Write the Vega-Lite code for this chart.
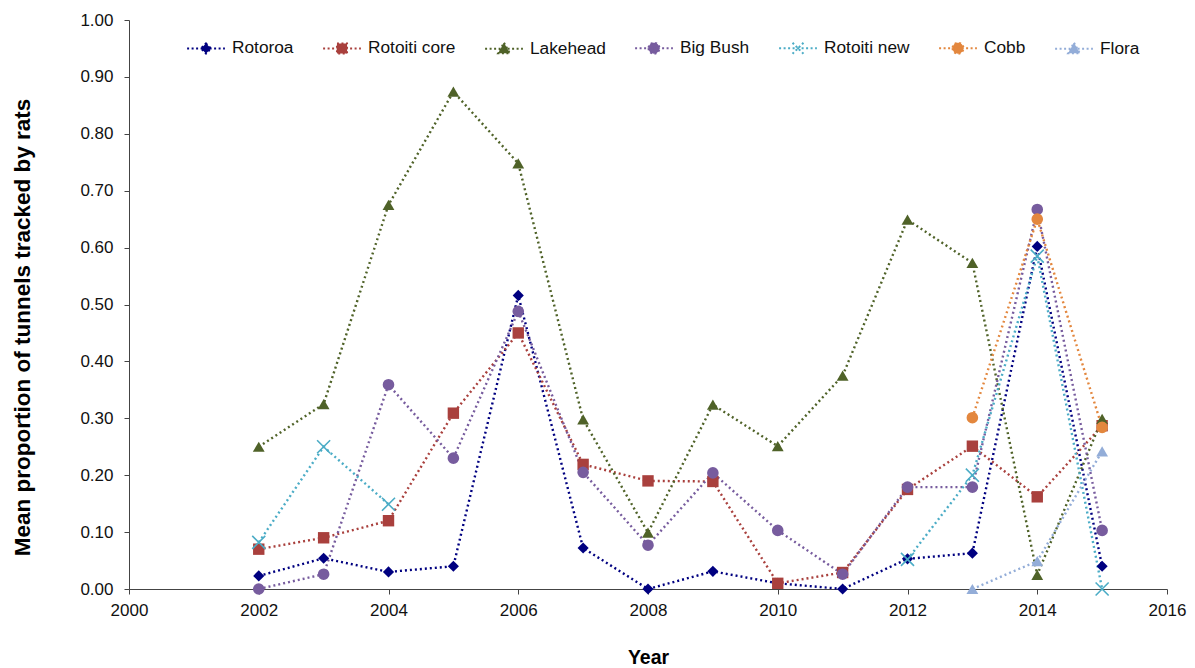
{
  "$schema": "https://vega.github.io/schema/vega-lite/v6.json",
  "width": 1038,
  "height": 569,
  "autosize": {"type": "none"},
  "padding": {"left": 129, "top": 20, "right": 28, "bottom": 79},
  "background": "white",
  "config": {
    "view": {"stroke": null},
    "font": "Liberation Sans",
    "axis": {
      "grid": false,
      "domainColor": "#444444",
      "tickColor": "#444444",
      "tickSize": 5,
      "labelFont": "Liberation Sans",
      "labelFontSize": 17,
      "labelColor": "#111111",
      "titleFont": "Liberation Sans",
      "titleFontWeight": "bold",
      "titleColor": "#000000"
    }
  },
  "data": {
    "values": [
      {"site": "Rotoroa", "run": "a", "year": 2002, "value": 0.023},
      {"site": "Rotoroa", "run": "a", "year": 2003, "value": 0.054},
      {"site": "Rotoroa", "run": "a", "year": 2004, "value": 0.030},
      {"site": "Rotoroa", "run": "a", "year": 2005, "value": 0.040},
      {"site": "Rotoroa", "run": "a", "year": 2006, "value": 0.516},
      {"site": "Rotoroa", "run": "a", "year": 2007, "value": 0.072},
      {"site": "Rotoroa", "run": "a", "year": 2008, "value": 0.0},
      {"site": "Rotoroa", "run": "a", "year": 2009, "value": 0.031},
      {"site": "Rotoroa", "run": "a", "year": 2010, "value": 0.010},
      {"site": "Rotoroa", "run": "a", "year": 2011, "value": 0.0},
      {"site": "Rotoroa", "run": "a", "year": 2012, "value": 0.053},
      {"site": "Rotoroa", "run": "a", "year": 2013, "value": 0.063},
      {"site": "Rotoroa", "run": "a", "year": 2014, "value": 0.602},
      {"site": "Rotoroa", "run": "a", "year": 2015, "value": 0.040},

      {"site": "Rotoiti core", "run": "a", "year": 2002, "value": 0.070},
      {"site": "Rotoiti core", "run": "a", "year": 2003, "value": 0.090},
      {"site": "Rotoiti core", "run": "a", "year": 2004, "value": 0.120},
      {"site": "Rotoiti core", "run": "a", "year": 2005, "value": 0.309},
      {"site": "Rotoiti core", "run": "a", "year": 2006, "value": 0.450},
      {"site": "Rotoiti core", "run": "a", "year": 2007, "value": 0.219},
      {"site": "Rotoiti core", "run": "a", "year": 2008, "value": 0.190},
      {"site": "Rotoiti core", "run": "a", "year": 2009, "value": 0.189},
      {"site": "Rotoiti core", "run": "a", "year": 2010, "value": 0.010},
      {"site": "Rotoiti core", "run": "a", "year": 2011, "value": 0.029},
      {"site": "Rotoiti core", "run": "a", "year": 2012, "value": 0.175},
      {"site": "Rotoiti core", "run": "a", "year": 2013, "value": 0.251},
      {"site": "Rotoiti core", "run": "a", "year": 2014, "value": 0.162},
      {"site": "Rotoiti core", "run": "a", "year": 2015, "value": 0.287},

      {"site": "Lakehead", "run": "a", "year": 2002, "value": 0.250},
      {"site": "Lakehead", "run": "a", "year": 2003, "value": 0.325},
      {"site": "Lakehead", "run": "a", "year": 2004, "value": 0.675},
      {"site": "Lakehead", "run": "a", "year": 2005, "value": 0.874},
      {"site": "Lakehead", "run": "a", "year": 2006, "value": 0.748},
      {"site": "Lakehead", "run": "a", "year": 2007, "value": 0.298},
      {"site": "Lakehead", "run": "a", "year": 2008, "value": 0.099},
      {"site": "Lakehead", "run": "a", "year": 2009, "value": 0.324},
      {"site": "Lakehead", "run": "a", "year": 2010, "value": 0.251},
      {"site": "Lakehead", "run": "a", "year": 2011, "value": 0.375},
      {"site": "Lakehead", "run": "a", "year": 2012, "value": 0.649},
      {"site": "Lakehead", "run": "a", "year": 2013, "value": 0.573},
      {"site": "Lakehead", "run": "a", "year": 2014, "value": 0.025},
      {"site": "Lakehead", "run": "a", "year": 2015, "value": 0.299},

      {"site": "Big Bush", "run": "a", "year": 2002, "value": 0.0},
      {"site": "Big Bush", "run": "a", "year": 2003, "value": 0.026},
      {"site": "Big Bush", "run": "a", "year": 2004, "value": 0.359},
      {"site": "Big Bush", "run": "a", "year": 2005, "value": 0.230},
      {"site": "Big Bush", "run": "a", "year": 2006, "value": 0.488},
      {"site": "Big Bush", "run": "a", "year": 2007, "value": 0.205},
      {"site": "Big Bush", "run": "a", "year": 2008, "value": 0.077},
      {"site": "Big Bush", "run": "a", "year": 2009, "value": 0.204},
      {"site": "Big Bush", "run": "a", "year": 2010, "value": 0.103},
      {"site": "Big Bush", "run": "a", "year": 2011, "value": 0.026},
      {"site": "Big Bush", "run": "a", "year": 2012, "value": 0.179},
      {"site": "Big Bush", "run": "a", "year": 2013, "value": 0.179},
      {"site": "Big Bush", "run": "a", "year": 2014, "value": 0.667},
      {"site": "Big Bush", "run": "a", "year": 2015, "value": 0.103},

      {"site": "Rotoiti new", "run": "a", "year": 2002, "value": 0.082},
      {"site": "Rotoiti new", "run": "a", "year": 2003, "value": 0.250},
      {"site": "Rotoiti new", "run": "a", "year": 2004, "value": 0.149},
      {"site": "Rotoiti new", "run": "b", "year": 2012, "value": 0.052},
      {"site": "Rotoiti new", "run": "b", "year": 2013, "value": 0.200},
      {"site": "Rotoiti new", "run": "b", "year": 2014, "value": 0.585},
      {"site": "Rotoiti new", "run": "b", "year": 2015, "value": 0.0},

      {"site": "Cobb", "run": "a", "year": 2013, "value": 0.301},
      {"site": "Cobb", "run": "a", "year": 2014, "value": 0.650},
      {"site": "Cobb", "run": "a", "year": 2015, "value": 0.284},

      {"site": "Flora", "run": "a", "year": 2013, "value": 0.0},
      {"site": "Flora", "run": "a", "year": 2014, "value": 0.049},
      {"site": "Flora", "run": "a", "year": 2015, "value": 0.242}
    ]
  },
  "encoding": {
    "x": {
      "field": "year",
      "type": "quantitative",
      "title": "Year",
      "scale": {"domain": [2000, 2016], "nice": false, "zero": false},
      "axis": {
        "values": [2000, 2002, 2004, 2006, 2008, 2010, 2012, 2014, 2016],
        "format": "d",
        "labelPadding": 8,
        "titlePadding": 30,
        "titleFontSize": 19.5,
        "labelFlush": false
      }
    },
    "y": {
      "field": "value",
      "type": "quantitative",
      "title": "Mean proportion of tunnels tracked by rats",
      "scale": {"domain": [0, 1], "nice": false},
      "axis": {
        "values": [0, 0.1, 0.2, 0.3, 0.4, 0.5, 0.6, 0.7, 0.8, 0.9, 1.0],
        "format": ".2f",
        "labelPadding": 11,
        "titlePadding": 45,
        "titleFontSize": 22.5,
        "titleY": 307,
        "labelFlush": false
      }
    },
    "color": {
      "field": "site",
      "type": "nominal",
      "scale": {
        "domain": ["Rotoroa", "Rotoiti core", "Lakehead", "Big Bush", "Rotoiti new", "Cobb", "Flora"],
        "range": ["#000080", "#A9403D", "#4F6228", "#775C9E", "#4BACC6", "#E3873E", "#93ADD8"]
      },
      "legend": {
        "title": null,
        "orient": "none",
        "direction": "horizontal",
        "legendX": 55,
        "legendY": 6,
        "symbolSize": 1764,
        "labelFont": "Liberation Sans",
        "labelFontSize": 17.3,
        "labelColor": "#111111",
        "labelOffset": 4,
        "columnPadding": 25,
        "encode": {
          "symbols": {
            "update": {
              "shape": {
                "signal": "datum.value === 'Rotoroa' ? 'M-0.9,0L0.9,0M0,-0.24L0.24,0L0,0.24L-0.24,0Z' : datum.value === 'Rotoiti core' ? 'M-0.9,0L0.9,0M-0.24,-0.24L0.24,-0.24L0.24,0.24L-0.24,0.24Z' : (datum.value === 'Lakehead' || datum.value === 'Flora') ? 'M-0.9,0L0.9,0M0,-0.28L0.28,0.22L-0.28,0.22Z' : datum.value === 'Rotoiti new' ? 'M-0.9,0L0.9,0M-0.26,-0.26L0.26,0.26M0.26,-0.26L-0.26,0.26' : 'M-0.9,0L0.9,0M-0.26,0A0.26,0.26 0 1,0 0.26,0A0.26,0.26 0 1,0 -0.26,0Z'"
              },
              "fill": {"scale": "color", "field": "value"},
              "stroke": {"scale": "color", "field": "value"},
              "strokeDash": {"value": [2, 2.5]},
              "strokeWidth": {"value": 2},
              "opacity": {"value": 1},
              "fillOpacity": {"value": 1},
              "strokeOpacity": {"value": 1}
            }
          }
        }
      }
    }
  },
  "layer": [
    {
      "mark": {"type": "line", "strokeDash": [2, 3], "strokeWidth": 2.4, "strokeCap": "butt"},
      "encoding": {"detail": {"field": "run"}}
    },
    {
      "transform": [{"filter": "datum.site === 'Rotoroa'"}],
      "mark": {"type": "point", "filled": true, "opacity": 1, "size": 125, "shape": "diamond"}
    },
    {
      "transform": [{"filter": "datum.site === 'Rotoiti core'"}],
      "mark": {"type": "point", "filled": true, "opacity": 1, "size": 130, "shape": "square"}
    },
    {
      "transform": [{"filter": "datum.site === 'Lakehead' || datum.site === 'Flora'"}],
      "mark": {"type": "point", "filled": true, "opacity": 1, "size": 140, "shape": "triangle-up"}
    },
    {
      "transform": [{"filter": "datum.site === 'Big Bush' || datum.site === 'Cobb'"}],
      "mark": {"type": "point", "filled": true, "opacity": 1, "size": 135, "shape": "circle"}
    },
    {
      "transform": [{"filter": "datum.site === 'Rotoiti new'"}],
      "mark": {"type": "point", "filled": false, "opacity": 1, "size": 170, "strokeWidth": 1.6, "shape": "M-1,-1L1,1M1,-1L-1,1"}
    }
  ]
}
